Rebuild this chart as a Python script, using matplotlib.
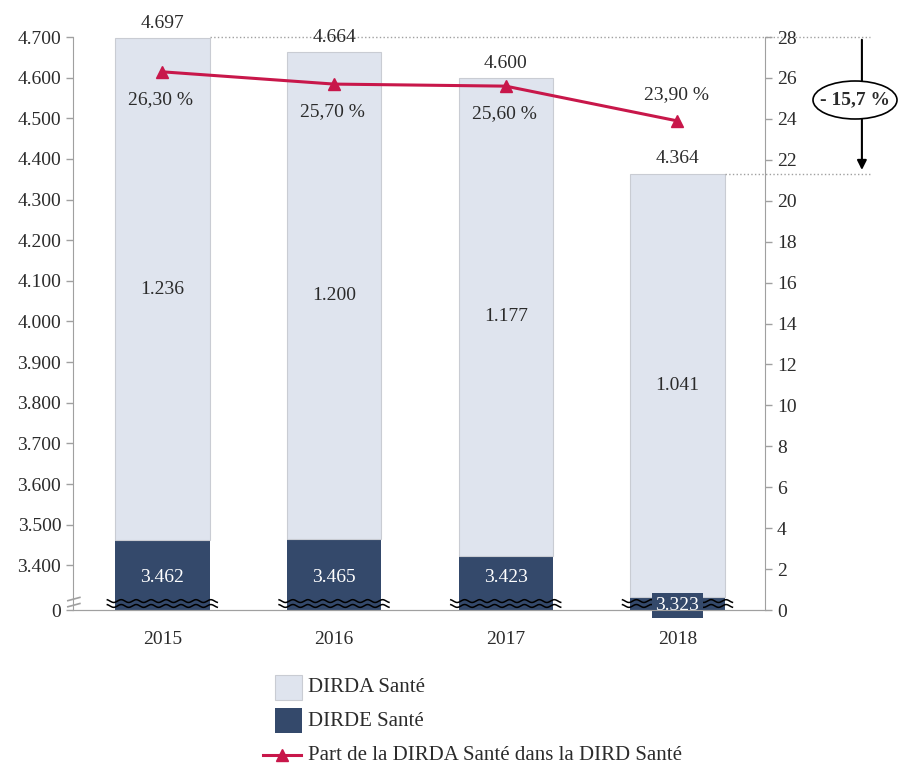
import numpy as np
import matplotlib
matplotlib.use('Agg')
import matplotlib.pyplot as plt
from matplotlib.patches import Rectangle, Ellipse
from matplotlib.lines import Line2D

# Data
years = ['2015', '2016', '2017', '2018']
dirde = [3462, 3465, 3423, 3323]
dirda = [1236, 1200, 1177, 1041]
totals = [4697, 4664, 4600, 4364]
part = [26.30, 25.70, 25.60, 23.90]
left_ticks = [0, 3400, 3500, 3600, 3700, 3800, 3900, 4000, 4100, 4200, 4300, 4400, 4500, 4600, 4700]
right_ticks = list(range(0, 29, 2))
evol_label = '- 15,7 %'

light = '#dfe4ee'
navy = '#34496b'
red = '#c8174a'
grey = '#a0a0a0'
txt = '#2b2b2b'

plt.rcParams['font.family'] = ['Liberation Serif', 'DejaVu Serif']
plt.rcParams['font.size'] = 14


# broken left scale: 0 at bottom, then 3.400 after a 1.1 unit gap
def m(v):
    if v == 0:
        return 0.0
    return 1.1 + (v - 3400) / 100.0


def fmt(v):
    return f'{v:,}'.replace(',', '.')


fig = plt.figure(figsize=(8.99, 7.65), dpi=100)
ax = fig.add_axes([0.0812, 0.2026, 0.7698, 0.749])
ax2 = ax.twinx()

x = np.arange(len(years))
w = 0.55
base = [m(v) for v in dirde]
top = [m(v) for v in totals]

ax.bar(x, base, width=w, color=navy, zorder=2)
ax.bar(x, np.array(top) - np.array(base), bottom=base, width=w,
       color=light, edgecolor='#c9ccd3', linewidth=0.8, zorder=2)

# wavy break lines across the bars
for i in x:
    xs = np.linspace(i - w / 2 - 0.045, i + w / 2 + 0.045, 200)
    for yb in (0.22, 0.10):
        ax.plot(xs, yb + 0.035 * np.sin((xs - i) * 2 * np.pi / 0.087),
                color='black', lw=1.1, zorder=3, clip_on=False)

# value labels
for i in x:
    ax.text(i, top[i] + 0.15, fmt(totals[i]), ha='center', va='bottom', color=txt)
    ax.text(i, (base[i] + top[i]) / 2, fmt(dirda[i]), ha='center', va='center', color=txt)
    if base[i] > 1:
        ax.text(i, 0.8, fmt(dirde[i]), ha='center', va='center', color='white', zorder=4)
    else:
        ax.text(i, 0.12, fmt(dirde[i]), ha='center', va='center', color='white', zorder=5,
                bbox=dict(boxstyle='square,pad=0.2', fc=navy, ec='none'))

ax.set_xlim(-0.52, 3.51)
ax.set_ylim(0, 14.1)
ax.set_yticks([m(v) for v in left_ticks])
ax.set_yticklabels([fmt(v) for v in left_ticks])
ax.set_xticks(x)
ax.set_xticklabels(years)

ax2.set_ylim(0, 28)
ax2.set_yticks(right_ticks)

for a in (ax, ax2):
    for s in a.spines.values():
        s.set_color(grey)
    a.spines['top'].set_visible(False)
    a.tick_params(colors=grey, labelcolor=txt, length=5, width=1)
ax.tick_params(axis='x', length=0, pad=15)
ax2.spines['left'].set_visible(False)
ax.spines['right'].set_visible(False)

# break mark on the left axis
for yb in (0.27, 0.12):
    ax.plot([-0.55, -0.48], [yb - 0.04, yb + 0.04], color=grey, lw=1.2, clip_on=False, zorder=5)

# line on the right axis
ax2.plot(x, part, color=red, lw=2.2, marker='^', ms=8, zorder=4)
for i in x:
    off = 19 if i == len(years) - 1 else -20
    ax2.annotate(f'{part[i]:.2f} %'.replace('.', ','), (x[i], part[i]),
                 textcoords='offset points', xytext=(-1, off),
                 ha='center', va='center', color=txt)

# evolution annotation on the right
xr = 4.12
ax.plot([w / 2, xr], [m(4700), m(4700)], ls=':', color=grey, lw=1, clip_on=False)
ax.plot([3 + w / 2, xr], [top[3], top[3]], ls=':', color=grey, lw=1, clip_on=False)
ax.annotate('', xy=(4.074, top[3] + 0.02), xytext=(4.074, m(4700)),
            arrowprops=dict(arrowstyle='-|>', color='black', lw=1.5, mutation_scale=14),
            annotation_clip=False)
fig.add_artist(Ellipse((855 / 899, 1 - 100 / 765), 84 / 899, 38 / 765, transform=fig.transFigure,
                       fc='white', ec='black', lw=1.2, zorder=6))
fig.text(855 / 899, 1 - 100 / 765, evol_label, ha='center', va='center', fontweight='bold',
         fontsize=14, zorder=7, color=txt)

# legend
fig.add_artist(Rectangle((275 / 899, 1 - 700 / 765), 27 / 899, 25 / 765,
                         transform=fig.transFigure, fc=light, ec='#c9ccd3', lw=0.8))
fig.add_artist(Rectangle((275 / 899, 1 - 733 / 765), 27 / 899, 25 / 765,
                         transform=fig.transFigure, fc=navy, ec='none'))
fig.add_artist(Line2D([263 / 899, 301 / 899], [1 - 755 / 765] * 2, transform=fig.transFigure,
                      color=red, lw=2.2))
fig.add_artist(Line2D([282 / 899], [1 - 755 / 765], transform=fig.transFigure,
                      color=red, marker='^', ms=8, ls='none'))
fig.text(308 / 899, 1 - 688 / 765, 'DIRDA Santé', va='center', color=txt, fontsize=15)
fig.text(308 / 899, 1 - 721 / 765, 'DIRDE Santé', va='center', color=txt, fontsize=15)
fig.text(308 / 899, 1 - 755 / 765, 'Part de la DIRDA Santé dans la DIRD Santé', va='center',
         color=txt, fontsize=15)

fig.savefig('out.png', dpi=100)
